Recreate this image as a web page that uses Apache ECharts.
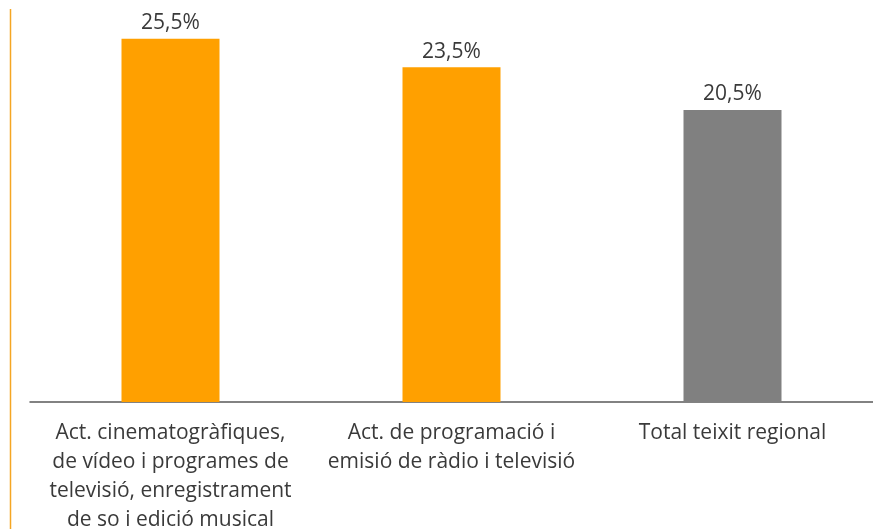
<!DOCTYPE html>
<html>
<head>
<meta charset="utf-8">
<script src="https://cdn.jsdelivr.net/npm/echarts@6/dist/echarts.min.js"></script>
<style>
  html, body { margin: 0; padding: 0; background: #fff; }
  #chart { width: 873px; height: 529px; }
</style>
</head>
<body>
<div id="chart"></div>
<script>
// dades
var categories = [
  "Act. cinematogràfiques,\nde vídeo i programes de\ntelevisió, enregistrament\nde so i edició musical",
  "Act. de programació i\nemisió de ràdio i televisió",
  "Total teixit regional"
];
var values = [25.5, 23.5, 20.5];
var barColors = ["#FFA000", "#FFA000", "#808080"];

var myChart = echarts.init(document.getElementById("chart"));
var option = {
  animation: false,
  grid: { left: 30, right: 0, top: 3, bottom: 127, containLabel: false, outerBoundsMode: "none" },
  graphic: [
    {
      type: "line",
      shape: { x1: 10.5, y1: 9, x2: 10.5, y2: 529 },
      style: { stroke: "#F5A623", lineWidth: 1.5 }
    }
  ],
  xAxis: {
    type: "category",
    data: categories,
    axisLine: { lineStyle: { color: "#595959", width: 1.5 } },
    axisTick: { show: false },
    axisLabel: {
      interval: 0,
      margin: 17,
      color: "#3a3a3a",
      fontFamily: "Open Sans",
      fontSize: 21,
      lineHeight: 29
    }
  },
  yAxis: {
    type: "value",
    min: 0,
    max: 28,
    show: false,
    splitLine: { show: false }
  },
  series: [
    {
      type: "bar",
      barWidth: 98,
      data: values.map(function (v, i) {
        return { value: v, itemStyle: { color: barColors[i] } };
      }),
      label: {
        show: true,
        position: "top",
        distance: 5,
        color: "#3a3a3a",
        fontFamily: "Open Sans",
        fontSize: 21,
        formatter: function (p) {
          return p.value.toFixed(1).replace(".", ",") + "%";
        }
      }
    }
  ]
};
myChart.setOption(option);
</script>
</body>
</html>
